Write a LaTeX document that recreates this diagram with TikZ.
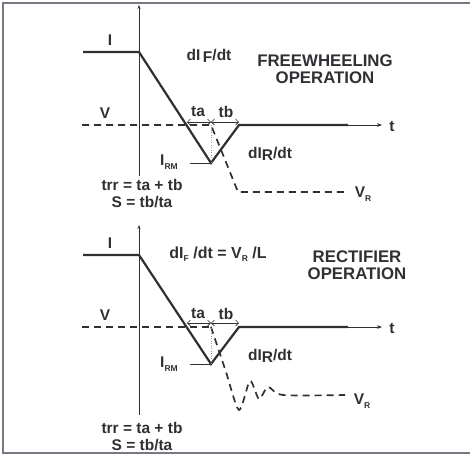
\documentclass[tikz,border=0pt]{standalone}
\usepackage{fontspec}
\setmainfont{Liberation Sans}
\definecolor{inkgray}{RGB}{48,48,52}
\definecolor{framegray}{RGB}{120,120,130}
\usetikzlibrary{arrows.meta,positioning}
\newcommand{\lowsub}[1]{\raisebox{-3.5pt}{\fontsize{8.5}{9}\selectfont #1}}
\newcommand{\dropsub}[1]{\raisebox{-2.5pt}{#1}}

\begin{document}
\begin{tikzpicture}[x=1pt,y=-1pt,
    font=\fontsize{15.5}{17}\selectfont\bfseries, text=inkgray,
    wave/.style={line width=2.2pt, draw=inkgray, line join=miter},
    axisline/.style={line width=0.7pt, draw=inkgray},
    volt/.style={line width=1.7pt, draw=inkgray, dash pattern=on 7pt off 5pt},
    timespan/.style={line width=0.6pt, draw=inkgray, {Straight Barb[length=3pt]}-{Straight Barb[length=3pt]}},
    lbl/.style={inner sep=0pt, align=center},
    title/.style={lbl, font=\fontsize{16.8}{17}\selectfont\bfseries}]

    \useasboundingbox (0,0) rectangle (470,456);
    \draw[framegray, line width=1.3pt] (470,3) -- (3,3) -- (3,453) -- (470,453);

    % freewheeling operation
    \coordinate (fw-top) at (139,5);
    \coordinate (fw-bot) at (139,176);
    \draw[axisline, -{Stealth[length=4pt]}] (fw-bot) -- (fw-top);
    \coordinate (fw-i0) at (83,52);
    \coordinate (fw-i1) at (139,52);
    \coordinate (fw-irm) at (211,163);
    \coordinate (fw-zero) at (239,125);
    \coordinate (fw-end) at (348,125);
    \coordinate (fw-t) at (382,125);
    \coordinate (fw-v0) at (82,125);
    \coordinate (fw-v1) at (211,125);
    \coordinate (fw-vr0) at (238,192);
    \coordinate (fw-vr1) at (347,192);
    \coordinate (fw-mark) at (190,163);
    \coordinate (fw-ta) at (187,122);
    \coordinate (fw-tab) at (211,122);
    \coordinate (fw-tb) at (239,122);
    \draw[volt] (fw-v0) -- (fw-v1) -- (fw-vr0) -- (fw-vr1);
    \draw[wave] (fw-i0) -- (fw-i1) -- (fw-irm) -- (fw-zero) -- (fw-end);
    \draw[axisline, -{Stealth[length=5pt]}] (fw-end) -- (fw-t);
    \draw[line width=0.5pt, draw=inkgray] (fw-mark) -- (fw-irm);
    \draw[line width=0.5pt, draw=inkgray!50, dotted] (fw-tab) -- (fw-irm);
    \draw[timespan] (fw-ta) -- (fw-tab);
    \draw[timespan] (fw-tab) -- (fw-tb);
    \node[lbl] (fw-tlbl) at (392,127) {t};
    \node[lbl] (fw-ilbl) at (110,40) {I};
    \node[lbl] (fw-vlbl) at (105,113) {V};
    \node[lbl] (fw-talbl) at (198,112) {ta};
    \node[lbl] (fw-tblbl) at (226,112) {tb};
    \node[lbl] (fw-difl) at (209,56) {dI\,\dropsub{F}/dt};
    \node[title] (fw-title) at (325,69) {FREEWHEELING\\OPERATION};
    \node[lbl] (fw-irml) at (169,162) {I\lowsub{RM}};
    \node[lbl] (fw-dirl) at (270,154) {dI\dropsub{R}/dt};
    \node[lbl] (fw-vrl) at (363,194) {V\lowsub{R}};
    \node[lbl] (fw-trr) at (142,194) {trr = ta + tb\\S = tb/ta};

    % rectifier operation
    \coordinate (rc-top) at (139,225);
    \coordinate (rc-bot) at (139,415);
    \draw[axisline, -{Stealth[length=4pt]}] (rc-bot) -- (rc-top);
    \coordinate (rc-i0) at (83,255);
    \coordinate (rc-i1) at (139,255);
    \coordinate (rc-irm) at (211,364);
    \coordinate (rc-zero) at (239,327);
    \coordinate (rc-end) at (348,327);
    \coordinate (rc-t) at (382,327);
    \coordinate (rc-v0) at (82,327);
    \coordinate (rc-v1) at (211,327);
    \coordinate (rc-mark) at (190,364);
    \coordinate (rc-ta) at (187,323);
    \coordinate (rc-tab) at (211,323);
    \coordinate (rc-tb) at (239,323);
    \draw[volt] (rc-v0) -- (rc-v1);
    \draw[volt] plot[smooth, tension=0.45] coordinates {(211,327) (226,372) (239,410) (250,381) (259,399) (268,387) (283,395) (345,395)};
    \draw[wave] (rc-i0) -- (rc-i1) -- (rc-irm) -- (rc-zero) -- (rc-end);
    \draw[axisline, -{Stealth[length=5pt]}] (rc-end) -- (rc-t);
    \draw[line width=0.5pt, draw=inkgray] (rc-mark) -- (rc-irm);
    \draw[line width=0.5pt, draw=inkgray!50, dotted] (rc-tab) -- (rc-irm);
    \draw[timespan] (rc-ta) -- (rc-tab);
    \draw[timespan] (rc-tab) -- (rc-tb);
    \node[lbl] (rc-tlbl) at (392,329) {t};
    \node[lbl] (rc-ilbl) at (110,243) {I};
    \node[lbl] (rc-vlbl) at (105,315) {V};
    \node[lbl] (rc-talbl) at (198,314) {ta};
    \node[lbl] (rc-tblbl) at (226,314) {tb};
    \node[lbl, font=\fontsize{16}{17}\selectfont\bfseries] (rc-difl) at (218,254) {dI\lowsub{F} /dt = V\lowsub{R} /L};
    \node[title] (rc-title) at (357,265) {RECTIFIER\\OPERATION};
    \node[lbl] (rc-irml) at (169,364) {I\lowsub{RM}};
    \node[lbl] (rc-dirl) at (270,356) {dI\dropsub{R}/dt};
    \node[lbl] (rc-vrl) at (362,401) {V\lowsub{R}};
    \node[lbl] (rc-trr) at (142,437) {trr = ta + tb\\S = tb/ta};
\end{tikzpicture}
\end{document}
